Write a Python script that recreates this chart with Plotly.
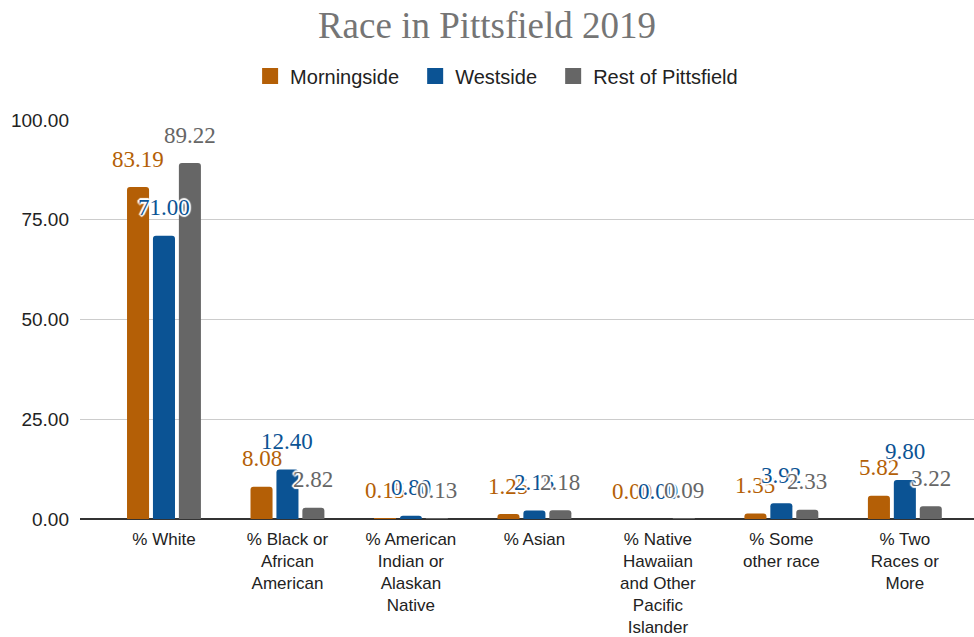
import plotly.graph_objects as go

categories = [
    "% White",
    "% Black or<br>African<br>American",
    "% American<br>Indian or<br>Alaskan<br>Native",
    "% Asian",
    "% Native<br>Hawaiian<br>and Other<br>Pacific<br>Islander",
    "% Some<br>other race",
    "% Two<br>Races or<br>More",
]

morningside = [83.19, 8.08, 0.15, 1.25, 0.00, 1.35, 5.82]
westside = [71.00, 12.40, 0.80, 2.15, 0.00, 3.92, 9.80]
rest_of_pittsfield = [89.22, 2.82, 0.13, 2.18, 0.09, 2.33, 3.22]

series = [
    ("Morningside", morningside, "#b45f06"),
    ("Westside", westside, "#0b5394"),
    ("Rest of Pittsfield", rest_of_pittsfield, "#666666"),
]

W, H = 974, 637
M_L, M_R, M_T, M_B = 80, 0, 120, 118
X_RANGE = [-0.68, 6.56]
BARGAP = 0.37
BARGROUPGAP = 0.15

SERIF = "Liberation Serif, DejaVu Serif, serif"
SANS = "Liberation Sans, Arial, sans-serif"
halo = ("2px 0 1px #fff, -2px 0 1px #fff, 0 2px 1px #fff, 0 -2px 1px #fff, "
        "1px 1px 1px #fff, -1px -1px 1px #fff, 1px -1px 1px #fff, -1px 1px 1px #fff")
LEGEND_PAD = "\u00a0\u00a0"  # extra room between legend entries

fig = go.Figure()
for k, (name, vals, color) in enumerate(series):
    fig.add_trace(go.Bar(
        name=name,
        x=categories,
        y=vals,
        marker=dict(color=color, line=dict(width=0)),
        showlegend=False,
    ))
    # square legend swatch
    fig.add_trace(go.Scatter(
        name=name + (LEGEND_PAD if k < len(series) - 1 else ""),
        x=[None], y=[None],
        mode="markers",
        marker=dict(symbol="square", size=18, color=color),
        showlegend=True,
    ))

# value labels above each bar, shifted sideways to their slot in the group
px_per_cat = (W - M_L - M_R) / (X_RANGE[1] - X_RANGE[0])
slot_px = (1 - BARGAP) / len(series) * px_per_cat
for j, (name, vals, color) in enumerate(series):
    for cat, v in zip(categories, vals):
        fig.add_annotation(
            x=cat, y=v,
            text=f"{v:.2f}",
            showarrow=False,
            xanchor="center", yanchor="middle",
            xshift=(j - (len(series) - 1) / 2) * slot_px,
            yshift=28,
            font=dict(family=SERIF, size=23, color=color, shadow=halo),
        )

fig.update_layout(
    width=W,
    height=H,
    margin=dict(l=M_L, r=M_R, t=M_T, b=M_B),
    paper_bgcolor="white",
    plot_bgcolor="white",
    barmode="group",
    bargap=BARGAP,
    bargroupgap=BARGROUPGAP,
    barcornerradius=3,
    title=dict(
        text="Race in Pittsfield 2019",
        x=0.5, xanchor="center",
        y=0.96, yanchor="middle",
        font=dict(family=SERIF, size=37, color="#757575"),
    ),
    legend=dict(
        orientation="h",
        x=0.466, xanchor="center",
        y=1.11, yanchor="middle",
        font=dict(family=SANS, size=20, color="#222222"),
        traceorder="normal",
    ),
    font=dict(family=SANS, size=17, color="#222222"),
)

fig.update_xaxes(
    type="category",
    range=X_RANGE,
    showgrid=False,
    showline=False,
    ticks="",
    ticklabelstandoff=8,
    tickfont=dict(size=17, color="#222222"),
)

fig.update_yaxes(
    range=[0, 100],
    tickvals=[0, 25, 50, 75, 100],
    ticktext=["0.00", "25.00", "50.00", "75.00", "100.00"],
    showgrid=True,
    gridcolor="#cccccc",
    gridwidth=1,
    zeroline=True,
    zerolinecolor="#333333",
    zerolinewidth=1.5,
    ticks="",
    ticklabelstandoff=10,
    tickfont=dict(size=19, color="#222222"),
)

fig.write_html("out.html")
